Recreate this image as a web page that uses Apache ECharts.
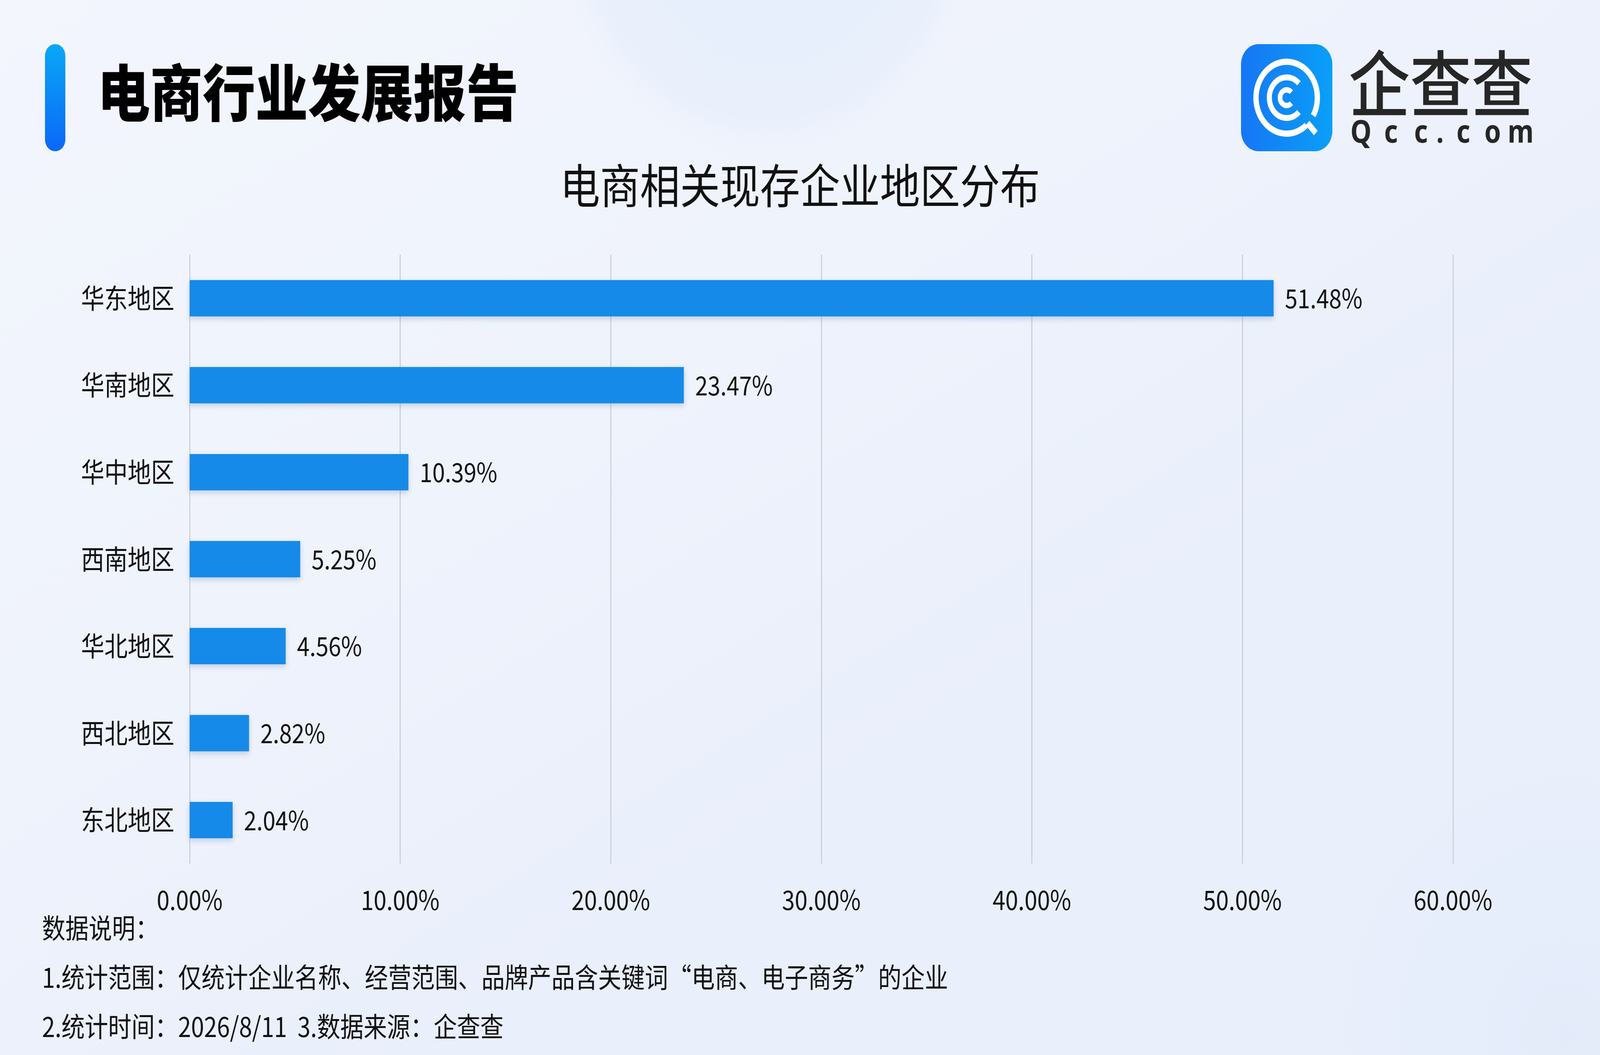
<!DOCTYPE html>
<html>
<head>
<meta charset="utf-8">
<style>
html,body{margin:0;padding:0;width:100%;height:100%;overflow:hidden;background:#f0f4fc;}
#chart{width:4800px;height:2700px;transform-origin:0 0;}
</style>
<script src="https://cdn.jsdelivr.net/npm/echarts@6/dist/echarts.min.js"></script>
</head>
<body>
<div id="chart"></div>
<script>
const categories = ['华东地区', '华南地区', '华中地区', '西南地区', '华北地区', '西北地区', '东北地区'];
const values = [51.48, 23.47, 10.39, 5.25, 4.56, 2.82, 2.04];
const axisMax = 60;
const axisInterval = 10;
const titleText = '电商行业发展报告';
const subtitleText = '电商相关现存企业地区分布';
const notes = [
  '数据说明：',
  '1.统计范围：仅统计企业名称、经营范围、品牌产品含关键词“电商、电子商务”的企业',
  '2.统计时间：2026/8/11  3.数据来源：企查查'
];
const brandName = '企查查';
const brandSite = 'Qcc.com';

// design canvas is 4800x2700; fit it to the actual window
const DW = 4800, DH = 2700;
const el = document.getElementById('chart');
const sx = (window.innerWidth || DW) / DW, sy = (window.innerHeight || DH) / DH;
el.style.transform = 'scale(' + sx + ',' + sy + ')';

const FONT = '"Noto Sans CJK SC", "Noto Sans", sans-serif';
const chart = echarts.init(el, null, {renderer: 'canvas', width: DW, height: DH});

const graphics = [];
graphics.push({
  type: 'circle', silent: true, z: -10,
  shape: {cx: 2300, cy: -250, r: 650},
  style: {fill: {type: 'radial', x: 0.5, y: 0.5, r: 0.5,
    colorStops: [{offset: 0, color: 'rgba(220,232,252,0.55)'}, {offset: 0.85, color: 'rgba(225,236,252,0.45)'}, {offset: 1, color: 'rgba(230,238,252,0)'}]}}
});
graphics.push({
  type: 'circle', silent: true, z: -10,
  shape: {cx: 4700, cy: 2650, r: 700},
  style: {fill: {type: 'radial', x: 0.5, y: 0.5, r: 0.5,
    colorStops: [{offset: 0, color: 'rgba(222,232,250,0.5)'}, {offset: 1, color: 'rgba(225,235,252,0)'}]}}
});
// accent bar
graphics.push({
  type: 'rect', shape: {x: 135, y: 113, width: 61, height: 274, r: 30},
  style: {fill: {type: 'linear', x: 0, y: 0, x2: 0, y2: 1,
    colorStops: [{offset: 0, color: '#0aa8f6'}, {offset: 1, color: '#0a68f8'}]}}
});
// main title
graphics.push({
  type: 'text', x: 292, y: 237,
  style: {text: titleText, fontSize: 158, fontWeight: 900, fontFamily: FONT, fill: '#000000',
    textAlign: 'left', textVerticalAlign: 'middle'}
});
// subtitle
graphics.push({
  type: 'text', x: 2400, y: 475,
  style: {text: subtitleText, fontSize: 120, fontWeight: 400, fontFamily: FONT, fill: '#111111',
    textAlign: 'center', textVerticalAlign: 'middle'}
});
// logo icon
graphics.push({
  type: 'rect', shape: {x: 3723, y: 113, width: 274, height: 274, r: 52},
  style: {fill: {type: 'linear', x: 0, y: 0, x2: 1, y2: 0,
    colorStops: [{offset: 0, color: '#1676f5'}, {offset: 1, color: '#0aa0f8'}]}}
});
const lc = {cx: 3860, cy: 250};
const deg = d => d * Math.PI / 180;
graphics.push({
  type: 'arc', shape: {cx: lc.cx, cy: lc.cy, r: 92, startAngle: deg(50), endAngle: deg(390), clockwise: true},
  style: {stroke: '#ffffff', lineWidth: 16, fill: null}
});
graphics.push({
  type: 'arc', shape: {cx: lc.cx, cy: lc.cy, r: 52, startAngle: deg(45), endAngle: deg(315), clockwise: true},
  style: {stroke: '#ffffff', lineWidth: 15, fill: null}
});
graphics.push({
  type: 'arc', shape: {cx: lc.cx, cy: lc.cy, r: 20, startAngle: deg(45), endAngle: deg(315), clockwise: true},
  style: {stroke: '#ffffff', lineWidth: 14, fill: null}
});
graphics.push({
  type: 'line', shape: {x1: lc.cx + 90 * Math.cos(deg(46)), y1: lc.cy + 90 * Math.sin(deg(46)),
    x2: lc.cx + 126 * Math.cos(deg(46)), y2: lc.cy + 126 * Math.sin(deg(46))},
  style: {stroke: '#ffffff', lineWidth: 16}
});
// logo text
graphics.push({
  type: 'text', x: 4322, y: 214,
  style: {text: brandName, fontSize: 184, fontWeight: 500, fontFamily: FONT, fill: '#262626',
    textAlign: 'center', textVerticalAlign: 'middle'}
});
const siteX = [4083, 4173, 4263, 4320, 4390, 4478, 4562];
brandSite.split('').forEach((ch, i) => {
  graphics.push({
    type: 'text', x: siteX[i], y: 342,
    style: {text: ch, fontSize: 80, fontWeight: 700, fontFamily: '"Noto Sans", sans-serif', fill: '#262626',
      textAlign: 'center', textVerticalAlign: 'middle'}
  });
});
// footnotes
const noteY = [2375, 2501, 2627];
notes.forEach((t, i) => {
  graphics.push({
    type: 'text', x: 126, y: noteY[i],
    style: {text: t, fontSize: 70, fontFamily: FONT, fill: '#111111',
      textAlign: 'left', textVerticalAlign: 'middle'}
  });
});

const option = {
  backgroundColor: {type: 'linear', x: 0, y: 0, x2: 0.3, y2: 1,
    colorStops: [{offset: 0, color: '#f3f6fd'}, {offset: 0.6, color: '#eff3fc'}, {offset: 1, color: '#e9effb'}]},
  animation: false,
  grid: {left: 569, right: 441, top: 652, bottom: 490, containLabel: false, outerBoundsMode: 'none'},
  xAxis: {
    type: 'value', min: 0, max: axisMax, interval: axisInterval,
    axisLine: {show: false}, axisTick: {show: false},
    splitLine: {show: true, lineStyle: {color: '#c9ccd4', width: 3}},
    axisLabel: {fontSize: 69, color: '#111111', fontFamily: FONT, margin: 58,
      formatter: v => v.toFixed(2) + '%'}
  },
  yAxis: {
    type: 'category', data: categories, inverse: true,
    axisLine: {show: false}, axisTick: {show: false}, splitLine: {show: false},
    axisLabel: {fontSize: 70, color: '#111111', fontFamily: FONT, margin: 46}
  },
  series: [{
    type: 'bar', data: values, barWidth: 93,
    itemStyle: {color: '#168ae8', shadowColor: 'rgba(20,70,150,0.22)', shadowBlur: 14, shadowOffsetY: 6},
    label: {show: true, position: 'right', distance: 34, fontSize: 68, color: '#111111', fontFamily: FONT,
      formatter: p => p.value.toFixed(2) + '%'}
  }],
  graphic: graphics
};
chart.setOption(option);
</script>
</body>
</html>
